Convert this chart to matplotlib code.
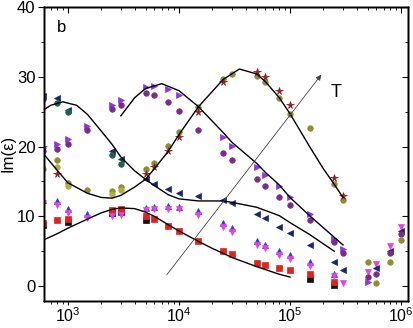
import numpy as np
import matplotlib
matplotlib.use('Agg')
import matplotlib.pyplot as plt
from matplotlib.ticker import MultipleLocator

plt.rcParams['font.family'] = ['Liberation Sans', 'DejaVu Sans']
plt.rcParams['mathtext.fontset'] = 'custom'
plt.rcParams['mathtext.rm'] = 'Liberation Sans'
plt.rcParams['mathtext.it'] = 'Liberation Sans:italic'

nan = np.nan

# frequencies (Hz)
freq = [6e2, 8e2, 1e3, 1.5e3, 2.5e3, 3e3, 5e3, 6e3, 8e3, 1e4, 1.5e4, 2.5e4,
        3e4, 5e4, 6e4, 8e4, 1e5, 1.5e5, 2.5e5, 3e5, 5e5, 6e5, 8e5, 1e6]

# Im(eps) for each temperature series (nan = not measured)
black_sq = [8.8, nan, 9.2, nan, 10.5, 10.6, 9.5, nan, nan, nan, nan, nan,
            nan, nan, nan, nan, nan, 1.0, 0.1, nan, nan, nan, nan, nan]
red_sq = [9.0, 9.5, 9.6, nan, 10.9, 11.0, 10.0, 9.6, 8.6, 7.9, 6.4, 5.0,
          4.6, 3.3, 3.0, 2.6, 2.3, 1.7, 0.6, nan, nan, nan, nan, nan]
blue_up = [12.4, 12.2, 11.0, 10.3, nan, nan, 11.2, 11.3, 11.5, 11.4, 10.7, 9.0,
           8.3, 6.4, 5.9, 5.0, 4.4, 3.4, 1.8, nan, nan, nan, nan, nan]
mag_dn = [11.9, 11.6, 10.5, 9.8, 10.0, 10.2, 10.9, 11.0, 11.1, 11.0, 10.2, 8.5,
          7.8, 5.9, 5.4, 4.5, 3.9, 2.9, 1.4, 0.4, 2.0, 3.2, 5.7, 8.4]
navy_lt = [27.2, 27.0, 25.3, nan, 19.3, 18.2, 15.3, 14.7, 13.9, 13.4, 12.9, 12.3,
           11.9, 10.4, 9.7, 8.4, 7.6, 5.9, 3.5, 2.3, nan, 2.6, 5.0, 7.9]
green_o = [26.8, 26.2, 24.9, nan, 18.8, 17.5, nan, nan, nan, nan, nan, nan,
           nan, nan, nan, nan, nan, nan, nan, nan, nan, nan, nan, nan]
violet_rt = [19.8, 20.4, 21.1, 23.0, 25.9, 26.6, 28.5, 28.6, 28.2, 27.4, nan, 21.3,
             20.1, 17.0, 15.9, 14.3, 12.7, 10.4, 6.8, 5.3, 0.6, nan, nan, nan]
purple_o = [19.3, 19.6, 20.4, 22.4, 25.4, 26.0, 27.7, 27.4, 26.4, 25.1, 22.4, 19.0,
            18.0, 15.3, 14.4, 12.7, 11.6, 9.4, 6.3, 4.7, 1.3, 1.8, 4.7, 7.5]
olive_o = [16.8, 18.0, 14.8, 13.7, 13.6, 14.2, 16.8, 17.7, 20.1, 22.1, 25.7, 29.7,
           30.4, 30.1, 29.2, 27.0, 24.7, 22.6, 14.7, 12.3, 3.5, 0.4, 3.5, 6.6]
khaki_o = [nan, 17.0, 14.4, nan, 13.2, 13.8, nan, nan, nan, nan, nan, nan,
           nan, nan, nan, nan, nan, nan, nan, nan, nan, nan, nan, nan]
brown_st = [20.0, 16.0, nan, nan, nan, nan, 16.1, 17.1, 19.4, 21.4, 25.0, 29.3,
            nan, 30.7, 30.0, 28.0, 26.0, nan, 15.5, 12.9, nan, nan, nan, nan]

# fitted curves
fitL_f = [6e2, 8e2, 1e3, 1.5e3, 2e3, 2.5e3, 3e3, 4e3, 5e3, 6e3, 8e3, 1e4,
          1.5e4, 2e4, 2.5e4, 3e4, 5e4, 8e4, 1e5]
fitL_y = [6.6, 7.5, 8.3, 9.6, 10.5, 11.0, 11.2, 11.1, 10.6, 10.0, 8.8, 7.9,
          6.4, 5.4, 4.7, 4.1, 2.8, 1.7, 1.3]
fitM_f = [6e2, 7e2, 9e2, 1.2e3, 1.5e3, 2e3, 2.5e3, 3e3, 4e3, 5e3, 6e3, 8e3,
          1e4, 1.5e4, 2.5e4, 3e4, 5e4, 8e4, 1e5, 1.5e5, 2.5e5]
fitM_y = [25.2, 25.9, 26.4, 25.9, 24.6, 22.2, 20.3, 18.5, 16.5, 15.3, 14.4, 13.1,
          12.5, 12.2, 12.2, 12.0, 11.3, 10.1, 9.1, 7.4, 5.0]
fitU1_f = [3e3, 4e3, 5e3, 7e3, 1e4, 1.5e4, 2.5e4, 3e4, 5e4, 6e4, 8e4, 1e5,
           1.5e5, 2.5e5, 3e5]
fitU1_y = [24.4, 27.0, 28.3, 29.0, 28.0, 25.7, 22.0, 20.6, 17.6, 16.3, 14.5, 12.7,
           10.1, 7.0, 5.9]
fitC2_f = [6e2, 8e2, 1e3, 1.5e3, 2e3, 2.5e3, 3e3, 4e3, 5e3, 6e3, 8e3, 1e4,
           1.5e4, 2.5e4, 3.5e4, 5e4, 6e4, 8e4, 1e5, 1.5e5, 2e5, 2.5e5, 3e5]
fitC2_y = [19.0, 16.6, 14.8, 13.3, 12.7, 12.6, 13.0, 14.2, 15.3, 16.8, 19.3, 21.7,
           25.7, 29.6, 31.1, 30.4, 29.3, 27.0, 24.7, 20.0, 16.8, 14.6, 12.7]

series = [
    (black_sq, 's', '#111111'),
    (red_sq, 's', '#e3221e'),
    (blue_up, '^', '#1e3ee6'),
    (mag_dn, 'v', '#ea3eea'),
    (navy_lt, '<', '#15296e'),
    (green_o, 'o', '#1f6446'),
    (violet_rt, '>', '#8a36e6'),
    (purple_o, 'o', '#7c2a8e'),
    (olive_o, 'o', '#8e8e2e'),
    (khaki_o, 'o', '#b0b040'),
    (brown_st, '*', '#8e1e1e'),
]

fig = plt.figure(figsize=(4.14, 3.28), dpi=100)
ax = fig.add_axes([0.106, 0.083, 0.880, 0.896])

for vals, mk, col in series:
    ms = 5.5 if mk == '*' else 4
    ax.plot(freq, vals, linestyle='none', marker=mk, color=col, ms=ms,
            markeredgewidth=0.5)

for fx, fy in [(fitL_f, fitL_y), (fitM_f, fitM_y), (fitU1_f, fitU1_y),
               (fitC2_f, fitC2_y)]:
    ax.plot(fx, fy, color='black', lw=1.0)

# temperature arrow
ax.annotate('', xy=(1.98e5, 30.6), xytext=(7.5e3, 1.3),
            arrowprops=dict(arrowstyle='-|>', color='#444444', lw=0.6,
                            mutation_scale=8))
ax.text(2.3e5, 27.7, 'T', fontsize=13, ha='left', va='center')
ax.text(0.036, 0.93, 'b', transform=ax.transAxes, fontsize=12,
        ha='left', va='center')

ax.set_xscale('log')
ax.set_xlim(608, 1.16e6)
ax.set_ylim(-2.1, 40)
ax.yaxis.set_major_locator(MultipleLocator(10))
ax.yaxis.set_minor_locator(MultipleLocator(5))
ax.set_ylabel('Im(\u03b5)', fontsize=12, labelpad=1)

ax.tick_params(axis='y', which='major', labelsize=12, length=4, width=0.8, pad=2)
ax.tick_params(axis='x', which='major', labelsize=11.5, length=3, width=0.8, pad=1)
ax.tick_params(axis='both', which='minor', length=2, width=0.6)
ax.tick_params(which='both', direction='out', top=False, right=False)

# inner ticks on top and right, mirror of the main ones
ax2 = ax.twinx()
ax2.set_ylim(ax.get_ylim())
ax2.yaxis.set_major_locator(MultipleLocator(10))
ax2.yaxis.set_minor_locator(MultipleLocator(5))
ax2.tick_params(which='both', direction='in', labelright=False)
ax2.tick_params(which='major', length=4)
ax2.tick_params(which='minor', length=2)
ax3 = ax.twiny()
ax3.set_xscale('log')
ax3.set_xlim(ax.get_xlim())
ax3.tick_params(which='both', direction='in', labeltop=False)
ax3.tick_params(which='major', length=4)
ax3.tick_params(which='minor', length=2)

for a in (ax, ax2, ax3):
    for s in a.spines.values():
        s.set_linewidth(1.0)

fig.savefig('out.png', dpi=100)
